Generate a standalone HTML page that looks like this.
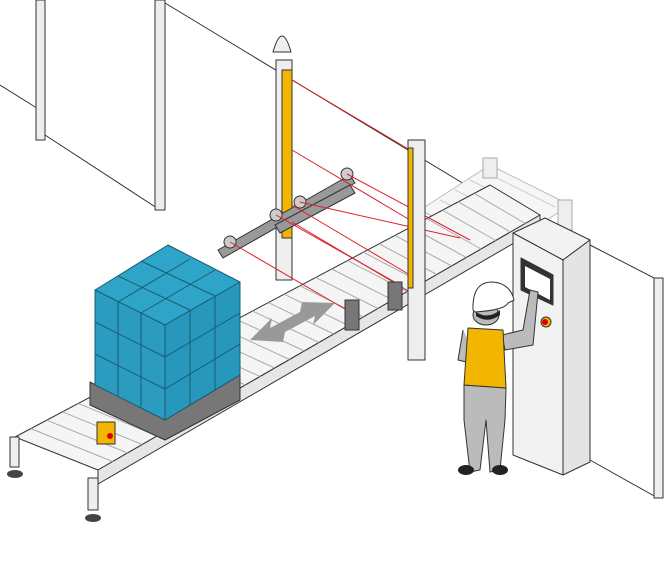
<!DOCTYPE html>
<html><head><meta charset="utf-8"><style>html,body{margin:0;padding:0;background:#fff}svg{display:block}</style></head>
<body>
<svg width="671" height="562" viewBox="0 0 671 562" xmlns="http://www.w3.org/2000/svg" stroke-linejoin="round">
<g stroke="#333" stroke-width="1" fill="none">
<line x1="45" y1="135" x2="160" y2="210"/>
<line x1="165" y1="3" x2="512" y2="213"/>
<line x1="0" y1="85" x2="40" y2="110"/>
<line x1="590" y1="245" x2="658" y2="280"/>
<line x1="590" y1="460" x2="656" y2="497"/>
</g>
<rect x="36" y="0" width="9" height="140" fill="#eee" stroke="#333"/>
<rect x="155" y="0" width="10" height="210" fill="#eee" stroke="#333"/>
<rect x="654" y="278" width="9" height="220" fill="#eee" stroke="#333"/>
<polygon points="420,210 490,165 570,205 500,250" fill="#f6f6f6" stroke="#bbb"/>
<g stroke="#ccc"><line x1="440" y1="200" x2="510" y2="235"/><line x1="455" y1="190" x2="525" y2="225"/><line x1="470" y1="180" x2="540" y2="215"/><line x1="485" y1="172" x2="555" y2="207"/></g>
<rect x="483" y="158" width="14" height="20" fill="#eee" stroke="#aaa"/>
<rect x="558" y="200" width="14" height="30" fill="#eee" stroke="#aaa"/>
<polygon points="15,437 490,185 540,215 98,470" fill="#f5f5f5" stroke="#333"/>
<polygon points="98,470 540,215 540,228 98,484" fill="#e6e6e6" stroke="#333"/>
<g stroke="#aaa" stroke-width="1">
<line x1="30.8" y1="428.6" x2="112.7" y2="461.5"/><line x1="46.7" y1="420.2" x2="127.5" y2="453"/>
<line x1="62.5" y1="411.8" x2="142.2" y2="444.5"/><line x1="78.3" y1="403.4" x2="156.9" y2="436"/>
<line x1="94.2" y1="395" x2="171.7" y2="427.5"/><line x1="110" y1="386.6" x2="186.4" y2="419"/>
<line x1="125.8" y1="378.2" x2="201.1" y2="410.5"/><line x1="141.7" y1="369.8" x2="215.9" y2="402"/>
<line x1="157.5" y1="361.4" x2="230.6" y2="393.5"/><line x1="173.3" y1="353" x2="245.3" y2="385"/>
<line x1="189.2" y1="344.6" x2="260.1" y2="376.5"/><line x1="205" y1="336.2" x2="274.8" y2="368"/>
<line x1="220.8" y1="327.8" x2="289.5" y2="359.5"/><line x1="236.7" y1="319.4" x2="304.3" y2="351"/>
<line x1="252.5" y1="311" x2="319" y2="342.5"/><line x1="268.3" y1="302.6" x2="333.7" y2="334"/>
<line x1="284.2" y1="294.2" x2="348.5" y2="325.5"/><line x1="300" y1="285.8" x2="363.2" y2="317"/>
<line x1="315.8" y1="277.4" x2="377.9" y2="308.5"/><line x1="331.7" y1="269" x2="392.7" y2="300"/>
<line x1="347.5" y1="260.6" x2="407.4" y2="291.5"/><line x1="363.3" y1="252.2" x2="422.1" y2="283"/>
<line x1="379.2" y1="243.8" x2="436.9" y2="274.5"/><line x1="395" y1="235.4" x2="451.6" y2="266"/>
<line x1="410.8" y1="227" x2="466.3" y2="257.5"/><line x1="426.7" y1="218.6" x2="481.1" y2="249"/>
<line x1="442.5" y1="210.2" x2="495.8" y2="240.5"/><line x1="458.3" y1="201.8" x2="510.5" y2="232"/>
<line x1="474.2" y1="193.4" x2="525.3" y2="223.5"/>
</g>
<rect x="10" y="437" width="9" height="30" fill="#eee" stroke="#333"/>
<ellipse cx="15" cy="474" rx="8" ry="4" fill="#444"/>
<rect x="88" y="478" width="10" height="32" fill="#eee" stroke="#333"/>
<ellipse cx="93" cy="518" rx="8" ry="4" fill="#444"/>
<rect x="97" y="422" width="18" height="22" fill="#f2b500" stroke="#333"/>
<circle cx="110" cy="436" r="3" fill="#d00"/>
<polygon points="90,382 165,420 240,375 240,400 165,440 90,405" fill="#777" stroke="#333"/>
<polygon points="95,290 168,245 240,282 165,325" fill="#2ea5c8" stroke="#1a5c72"/>
<polygon points="95,290 165,325 165,420 95,385" fill="#2b9cc0" stroke="#1a5c72"/>
<polygon points="165,325 240,282 240,375 165,420" fill="#2797bb" stroke="#1a5c72"/>
<g stroke="#1a5c72" fill="none">
<line x1="95" y1="322" x2="165" y2="357"/><line x1="95" y1="354" x2="165" y2="389"/>
<line x1="118" y1="302" x2="118" y2="397"/><line x1="141" y1="313" x2="141" y2="408"/>
<line x1="165" y1="357" x2="240" y2="313"/><line x1="165" y1="389" x2="240" y2="344"/>
<line x1="190" y1="310" x2="190" y2="405"/><line x1="215" y1="296" x2="215" y2="390"/>
<line x1="118" y1="276" x2="190" y2="310"/><line x1="141" y1="261" x2="215" y2="296"/>
<line x1="190" y1="259" x2="118" y2="302"/><line x1="215" y1="270" x2="141" y2="313"/>
</g>
<polygon points="250,340 272,318 270,328 300,312 302,302 335,303 313,325 315,316 285,332 283,342" fill="#999"/>
<rect x="276" y="60" width="16" height="220" fill="#eee" stroke="#333"/>
<rect x="282" y="70" width="10" height="168" fill="#f2b500" stroke="#333"/>
<path d="M273,52 Q282,20 291,52 Z" fill="#eee" stroke="#333"/>
<polygon points="218,250 350,175 355,183 223,258" fill="#999" stroke="#333"/>
<polygon points="275,225 350,185 355,193 280,233" fill="#999" stroke="#333"/>
<circle cx="230" cy="242" r="6" fill="#ccc" stroke="#333"/><circle cx="276" cy="215" r="6" fill="#ccc" stroke="#333"/>
<circle cx="300" cy="202" r="6" fill="#ccc" stroke="#333"/><circle cx="347" cy="174" r="6" fill="#ccc" stroke="#333"/>
<g stroke="#e0202a" stroke-width="1">
<line x1="292" y1="80" x2="410" y2="150"/><line x1="292" y1="150" x2="410" y2="220"/>
<line x1="292" y1="205" x2="410" y2="275"/><line x1="292" y1="222" x2="410" y2="292"/>
<line x1="230" y1="242" x2="350" y2="312"/><line x1="300" y1="202" x2="460" y2="238"/>
<line x1="347" y1="174" x2="470" y2="240"/><line x1="276" y1="215" x2="400" y2="285"/>
</g>
<rect x="408" y="140" width="17" height="220" fill="#eee" stroke="#333"/>
<rect x="408" y="148" width="5" height="140" fill="#f2b500" stroke="#333"/>
<rect x="345" y="300" width="14" height="30" fill="#777" stroke="#333"/>
<rect x="388" y="282" width="14" height="28" fill="#777" stroke="#333"/>
<polygon points="513,233 545,218 590,240 563,260" fill="#f2f2f2" stroke="#333"/>
<polygon points="563,260 590,240 590,462 563,475" fill="#e4e4e4" stroke="#333"/>
<polygon points="513,233 563,260 563,475 513,455" fill="#f2f2f2" stroke="#333"/>
<polygon points="521,258 553,275 553,305 521,290" fill="#333" stroke="#333"/>
<polygon points="525,266 550,279 550,300 525,287" fill="#fff"/>
<circle cx="546" cy="322" r="5" fill="#f2b500" stroke="#333"/><circle cx="545" cy="322" r="3" fill="#d00"/>
<path d="M463,330 L458,360 L466,362 L468,340" fill="#bbb" stroke="#333"/>
<path d="M502,335 L523,330 L530,290 L538,292 L533,345 L505,350 Z" fill="#bbb" stroke="#333"/>
<polygon points="464,385 506,388 505,420 500,470 490,472 486,420 480,470 470,472 464,420" fill="#bbb" stroke="#333"/>
<polygon points="468,328 503,330 506,388 464,385" fill="#f2b500" stroke="#333"/>
<ellipse cx="486" cy="315" rx="13" ry="10" fill="#bbb" stroke="#333"/>
<path d="M473,310 Q472,282 492,282 Q510,283 514,300 L508,303 Q505,310 475,312 Z" fill="#fff" stroke="#333"/>
<path d="M476,312 Q488,320 500,310 L500,315 Q488,324 476,316 Z" fill="#222"/>
<ellipse cx="466" cy="470" rx="8" ry="5" fill="#222"/>
<ellipse cx="500" cy="470" rx="8" ry="5" fill="#222"/>
</svg>
</body></html>
